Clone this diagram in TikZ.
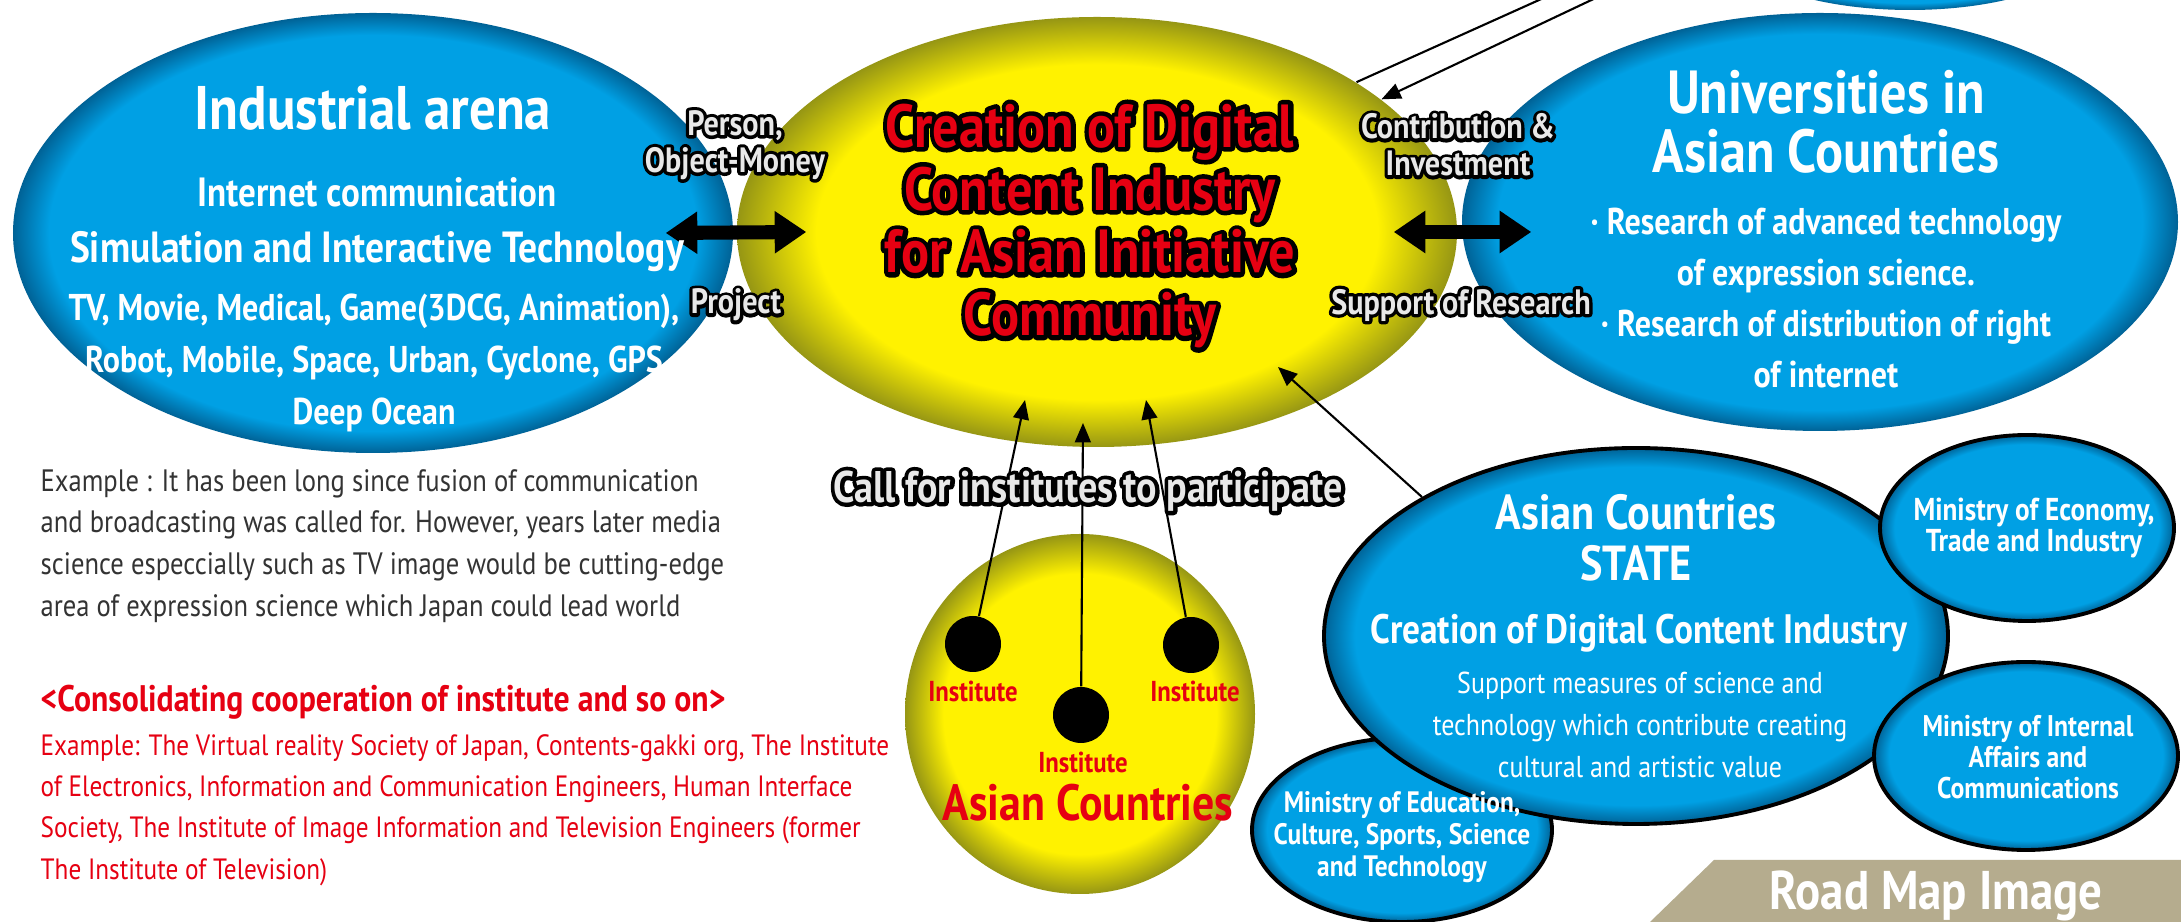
\documentclass[tikz,border=0pt]{standalone}
\usepackage{fontspec}
\setmainfont{PT Sans}[FakeStretch=0.86]
\usetikzlibrary{shapes.geometric,arrows.meta,calc}

\definecolor{skyblue}{RGB}{0,160,228}
\definecolor{deepblue}{RGB}{0,98,150}
\definecolor{yolk}{RGB}{255,242,0}
\definecolor{olivedge}{RGB}{150,150,20}
\definecolor{jred}{RGB}{230,0,18}
\definecolor{inkgray}{RGB}{51,51,51}
\definecolor{sand}{RGB}{181,172,142}
\definecolor{haze}{RGB}{232,232,232}

\pgfdeclareradialshading{bluedome}{\pgfpoint{0bp}{0bp}}{color(0bp)=(skyblue); color(22.5bp)=(skyblue); color(25bp)=(deepblue); color(50bp)=(deepblue)}
\pgfdeclareradialshading{yellowdome}{\pgfpoint{0bp}{0bp}}{color(0bp)=(yolk); color(19.5bp)=(yolk); color(25bp)=(olivedge); color(50bp)=(olivedge)}

\newcommand{\fsz}[2]{\fontsize{#1}{#2}\selectfont}
% outline only, black, line width #1 (bp)
\newcommand{\rimonly}[2]{\special{pdf:code q 0 0 0 RG #1 w 1 j 1 Tr}#2\special{pdf:code Q}}
% text with a black rim: name, position, style, rim width, text
\newcommand{\rimText}[5]{%
  \node[#3] (#1-rim) at (#2) {\rimonly{#4}{#5}};
  \node[#3] (#1) at (#2) {#5};}

\begin{document}
\begin{tikzpicture}[
  dome/.style={ellipse, inner sep=0pt, shading=bluedome},
  ydome/.style={ellipse, inner sep=0pt, shading=yellowdome},
  ministry/.style={dome, draw=black, line width=1.1pt},
  wtxt/.style={text=white, align=center, inner sep=0pt},
  rtxt/.style={text=jred, align=center, inner sep=0pt},
  tag/.style={text=haze, align=center, inner sep=0pt, font=\bfseries\fsz{10}{10.5}},
  dot/.style={circle, fill=black, minimum size=0.56cm, inner sep=0pt},
  bigarrow/.style={line width=4pt, {Triangle[length=9pt,width=11.5pt]}-{Triangle[length=9pt,width=11.5pt]}},
  thinarrow/.style={line width=0.6pt, -{Triangle[length=5.5pt,width=4.5pt]}},
]
\fill[white] (0,0) rectangle (21.81,-9.22);
\useasboundingbox (0,0) rectangle (21.81,-9.22);

% bubbles
\node[dome, minimum width=3.7cm, minimum height=1.4cm] (topblob) at (19.10,0.60) {};
\node[dome, minimum width=7.20cm, minimum height=4.40cm] (industry) at (3.73,-2.33) {};
\node[ydome, minimum width=7.20cm, minimum height=4.30cm] (main) at (10.97,-2.32) {};
\node[dome, minimum width=7.16cm, minimum height=4.18cm] (uni) at (18.20,-2.22) {};

\node[ministry, minimum width=3.00cm, minimum height=1.84cm] (edu) at (14.02,-8.30) {};
\node[ministry, minimum width=6.24cm, minimum height=3.76cm] (state) at (16.36,-6.36) {};
\node[ministry, minimum width=2.94cm, minimum height=1.86cm] (econ) at (20.27,-5.28) {};
\node[ministry, minimum width=3.04cm, minimum height=1.88cm] (internal) at (20.26,-7.56) {};

\node[ydome, minimum width=3.50cm, minimum height=3.60cm] (asia) at (10.80,-7.14) {};
\node[dot] (dotL) at (9.73,-6.44) {};
\node[dot] (dotM) at (10.81,-7.15) {};
\node[dot] (dotR) at (11.91,-6.45) {};

\fill[sand] (17.14,-8.60) -- (21.81,-8.60) -- (21.81,-9.22) -- (16.50,-9.22) -- cycle;

% arrows
\draw[bigarrow] ($(industry.east)+(-0.68,0)$) -- ($(main.west)+(0.70,0)$);
\draw[bigarrow] ($(main.east)+(-0.64,0)$) -- ($(uni.west |- main.east)+(0.70,0)$);

\coordinate (topA) at (16.28,0.40);
\coordinate (topB) at (16.76,0.40);
\draw[thinarrow] (main.30) -- (topA);
\draw[thinarrow] (topB) -- (main.25);

\coordinate (callL) at (10.25,-4.00);
\coordinate (callM) at (10.83,-4.23);
\coordinate (callR) at (11.46,-4.00);
\draw[thinarrow] (dotL) -- (callL);
\draw[thinarrow] (dotM) -- (callM);
\draw[thinarrow] (dotR) -- (callR);

\coordinate (stateIn) at (12.78,-3.67);
\draw[thinarrow] (state.147) -- (stateIn);

% industrial arena
\node[wtxt, font=\bfseries\fsz{17.5}{18}] (indTitle) at (3.73,-1.08) {Industrial arena};
\node[wtxt, font=\bfseries\fsz{11.6}{14}] (indNet) at (3.77,-1.92) {Internet communication};
\node[wtxt, font=\bfseries\fsz{12.4}{14}] (indSim) at (3.77,-2.52) {Simulation and Interactive Technology};
\node[wtxt, font=\bfseries\fsz{10.6}{14.7}] (indList) at (3.74,-3.63) {TV, Movie, Medical, Game(3DCG, Animation),\\Robot, Mobile, Space, Urban, Cyclone, GPS\\Deep Ocean};

% universities
\node[wtxt, font=\bfseries\fsz{17.3}{16.8}] (uniTitle) at (18.26,-1.22) {Universities in\\Asian Countries};
\node[wtxt, font=\bfseries\fsz{10.6}{14.5}] (uniList) at (18.26,-2.98) {· Research of advanced technology\\of expression science.\\· Research of distribution of right\\of internet};

% centre
\rimText{mainTitle}{10.90,-2.26}{rtxt, font=\bfseries\fsz{17.3}{17.9}}{2.6}{Creation of Digital\\Content Industry\\for Asian Initiative\\Community}

\rimText{person}{7.35,-1.45}{tag}{1.9}{Person,\\Object-Money}
\rimText{project}{7.36,-3.05}{tag}{1.9}{Project}
\rimText{contrib}{14.58,-1.45}{tag}{1.9}{Contribution \&\\Investment}
\rimText{support}{14.61,-3.05}{tag}{1.9}{Support of Research}
\rimText{call}{10.88,-4.91}{tag, font=\bfseries\fsz{12.6}{14}}{2.3}{Call for institutes to participate}

% institutes
\node[rtxt, font=\bfseries\fsz{8.2}{9}] (instL) at (9.73,-6.91) {Institute};
\node[rtxt, font=\bfseries\fsz{8.2}{9}] (instR) at (11.95,-6.91) {Institute};
\node[rtxt, font=\bfseries\fsz{8.2}{9}] (instM) at (10.83,-7.62) {Institute};
\node[rtxt, font=\bfseries\fsz{14.5}{15}] (asiaName) at (10.88,-8.03) {Asian Countries};

% state and ministries
\node[wtxt, font=\bfseries\fsz{14}{14.5}] (stateTitle) at (16.36,-5.38) {Asian Countries\\STATE};
\node[wtxt, font=\bfseries\fsz{11.7}{12}] (stateSub) at (16.39,-6.33) {Creation of Digital Content Industry};
\node[wtxt, font=\fsz{8.6}{12}] (stateBody) at (16.40,-7.25) {Support measures of science and\\technology which contribute creating\\cultural and artistic value};

\node[wtxt, font=\bfseries\fsz{9}{8.9}] (econTxt) at (20.34,-5.28) {Ministry of Economy,\\Trade and Industry};
\node[wtxt, font=\bfseries\fsz{8.5}{8.9}] (internalTxt) at (20.28,-7.57) {Ministry of Internal\\Affairs and\\Communications};
\node[wtxt, font=\bfseries\fsz{8.4}{9.2}] (eduTxt) at (14.02,-8.37) {Ministry of Education,\\Culture, Sports, Science\\and Technology};

\node[text=white, font=\bfseries\fsz{15.5}{18}, anchor=base, inner sep=0pt] (roadmap) at (19.36,-9.10) {Road Map Image};

% notes
\node[text=inkgray, font=\fsz{8.8}{11.9}, align=left, anchor=west, inner sep=0pt] (exGray) at (0.40,-5.46) {Example : It has been long since fusion of communication\\and broadcasting was called for. However, years later media\\science especcially such as TV image would be cutting-edge\\area of expression science which Japan could lead world};
\node[text=jred, font=\bfseries\fsz{10.5}{11}, anchor=west, inner sep=0pt] (consol) at (0.40,-7.02) {<Consolidating cooperation of institute and so on>};
\node[text=jred, font=\fsz{8.35}{11.8}, align=left, anchor=west, inner sep=0pt] (exRed) at (0.40,-8.10) {Example: The Virtual reality Society of Japan, Contents-gakki org, The Institute\\of Electronics, Information and Communication Engineers, Human Interface\\Society, The Institute of Image Information and Television Engineers (former\\The Institute of Television)};
\end{tikzpicture}
\end{document}
